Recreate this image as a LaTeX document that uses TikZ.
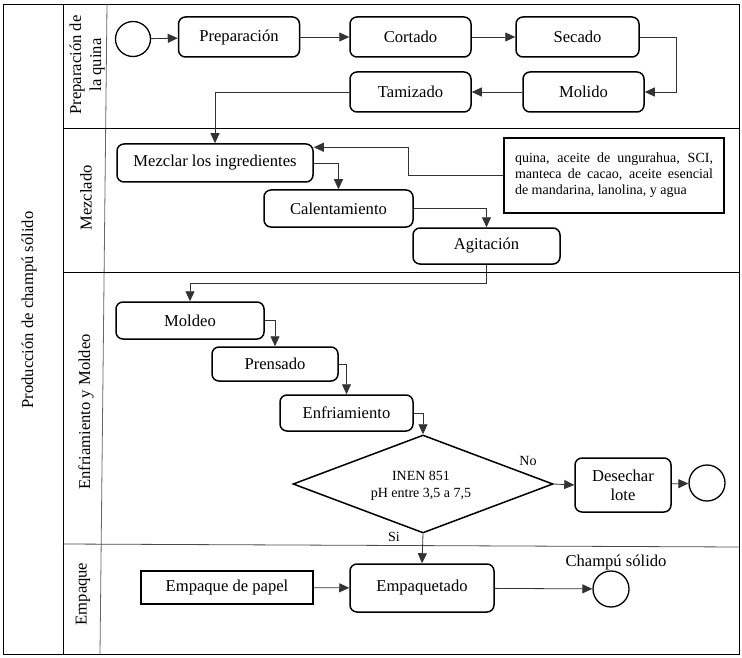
\documentclass[tikz,border=0pt]{standalone}
\usepackage{fontspec}
\setmainfont{Liberation Serif}
\usetikzlibrary{shapes.geometric,arrows.meta}
\newcommand{\fbig}{\fontsize{16.6}{19}\selectfont}
\newcommand{\fsmall}{\fontsize{14}{16}\selectfont}
\begin{document}
\begin{tikzpicture}[x=1pt,y=-1pt,
  task/.style={draw, line width=1.5pt, rounded corners=7pt, inner sep=0pt, font=\fbig, align=center},
  plainbox/.style={draw, line width=1.8pt, inner sep=0pt, font=\fbig, align=center},
  event/.style={draw, circle, line width=1.3pt, minimum size=35pt, inner sep=0pt},
  conn/.style={draw=black!80, line width=0.8pt, -{Triangle[length=10pt,width=9pt]}},
  lane/.style={line width=0.8pt},
  lanelabel/.style={rotate=90, font=\fbig, align=center, inner sep=0pt},
  lbl/.style={font=\fsmall, inner sep=0pt}]
\useasboundingbox (0,0) rectangle (742,658);
% frame and lanes
\draw[lane] (3,4) rectangle (739,654);
\draw[lane] (63,4) -- (63,654);
\draw[line width=0.8pt, black!60] (107,4) -- (100,654);
\draw[lane] (63,128) -- (739,128);
\draw[lane] (63,272) -- (739,272);
\draw[line width=0.8pt, black!70] (63,544) -- (739,547);
% lane labels
\node[lanelabel] (lp) at (29,310) {Producción de champú sólido};
\node[lanelabel, font=\fontsize{16.6}{20}\selectfont] (l1) at (87,65) {Preparación de\\la quina};
\node[lanelabel] (l2) at (86,198) {Mezclado};
\node[lanelabel] (l3) at (86,412) {Enfriamiento y Moldeo};
\node[lanelabel] (l4) at (83,594) {Empaque};
% lane 1
\node[event] (start) at (133,39) {};
\node[task, minimum width=121pt, minimum height=40pt] (prep) at (239,37) {Preparación};
\node[task, minimum width=121pt, minimum height=40pt] (cort) at (410.5,37) {Cortado};
\node[task, minimum width=123pt, minimum height=40pt] (sec) at (577.5,37) {Secado};
\node[task, minimum width=121pt, minimum height=40pt] (mol) at (583.5,92) {Molido};
\node[task, minimum width=121pt, minimum height=40pt] (tam) at (410.5,92) {Tamizado};
% lane 2
\node[task, minimum width=196pt, minimum height=38pt] (mez) at (215,163) {Mezclar los ingredientes};
\node[task, minimum width=149pt, minimum height=37pt] (cal) at (338.5,208.5) {Calentamiento};
\node[task, minimum width=147pt, minimum height=36pt] (agi) at (486.5,246) {Agitación};
\node[plainbox, minimum width=220pt, minimum height=75pt, text width=198pt, align=justify, font=\fsmall] (ing) at (614,175.5) {quina, aceite de ungurahua, SCI, manteca de cacao, aceite esencial de mandarina, lanolina, y agua};
% lane 3
\node[task, minimum width=148pt, minimum height=37pt] (mold) at (190,320.5) {Moldeo};
\node[task, minimum width=126pt, minimum height=34pt] (pren) at (275,364) {Prensado};
\node[task, minimum width=133pt, minimum height=36pt] (enf) at (346.5,413) {Enfriamiento};
\node[draw, diamond, line width=1.5pt, minimum width=260pt, minimum height=98pt, inner sep=0pt, aspect=2.65] (dia) at (423,484) {};
\node[align=center, inner sep=0pt, font=\fontsize{14}{17}\selectfont] (diat) at (421,485.5) {INEN 851\\pH entre 3,5 a 7,5};
\node[task, minimum width=96pt, minimum height=54pt] (des) at (623,485) {Desechar\\lote};
\node[event, minimum size=36pt] (end1) at (707,483) {};
\node[lbl] (no) at (528,461) {No};
\node[lbl] (si) at (394,537) {Si};
% lane 4
\node[plainbox, minimum width=172pt, minimum height=33pt] (emppap) at (227,587.5) {Empaque de papel};
\node[task, minimum width=144pt, minimum height=48pt] (empq) at (422,588) {Empaquetado};
\node[event, minimum size=36pt] (end2) at (611,589) {};
\node[font=\fbig, inner sep=0pt] (champ) at (616,562) {Champú sólido};
% connectors
\draw[conn] (start) -- (prep);
\draw[conn] (prep) -- (cort);
\draw[conn] (cort) -- (sec);
\draw[conn] (sec.east) -- ++(37,0) |- (mol.east);
\draw[conn] (mol) -- (tam);
\draw[conn] (tam.west) -| (mez.north);
\draw[conn] (mez.east) -| (cal.north);
\draw[conn] (cal.east) -| (agi.north);
\draw[conn] (ing.west) -- ++(-95,0) |- ([yshift=-4pt]mez.north east);
\draw[conn] (agi.south) -- ++(0,19) -| (mold.north);
\draw[conn] (mold.east) -| (pren.north);
\draw[conn] (pren.east) -| (enf.north);
\draw[conn] (enf.east) -| (dia.north);
\draw[conn] (dia.east) -- (des.west);
\draw[conn] (des) -- (end1);
\draw[conn] (dia.south) -- (empq.north);
\draw[conn] (emppap) -- (empq);
\draw[conn] (empq) -- (end2);
\end{tikzpicture}
\end{document}
